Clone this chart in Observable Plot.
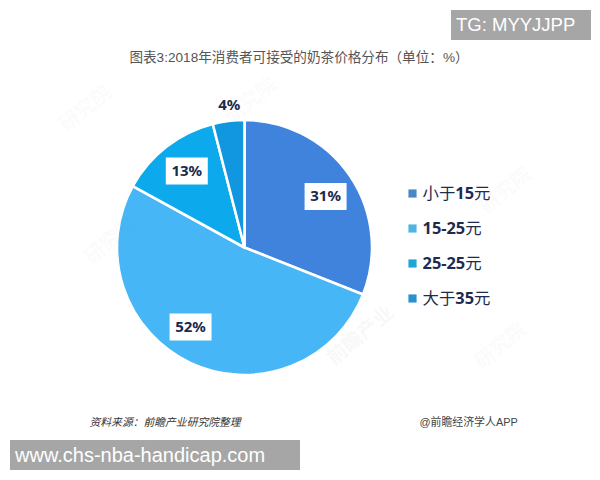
<!DOCTYPE html>
<html><head><meta charset="utf-8">
<script src="https://cdn.jsdelivr.net/npm/d3@7"></script>
<script src="https://cdn.jsdelivr.net/npm/@observablehq/plot@0.6"></script>
<style>
html,body{margin:0;padding:0;background:#fff;width:600px;height:480px;overflow:hidden}
#chart{position:absolute;left:0;top:0}
.stamp{position:absolute;background:#a6a6a6;color:#fff;font-family:"Liberation Sans",sans-serif;height:30px;line-height:30px;white-space:nowrap}
</style></head>
<body>
<div id="chart"></div>
<div class="stamp" style="left:451px;top:10px;width:135px;padding-left:5px;font-size:18.5px">TG: MYYJJPP</div>
<div class="stamp" style="left:10px;top:440px;width:285px;padding-left:5px;font-size:20px">www.chs-nba-handicap.com</div>
<script>
const categories = ["小于15元", "15-25元", "25-25元", "大于35元"];
const shares = [31, 52, 13, 4];
const pieColors = ["#3f83dc", "#46b6f6", "#0caaec", "#1097e0"];
const legendColors = ["#4a86c9", "#4fb4e2", "#1fa6d8", "#2a90cf"];
const titleText = "图表3:2018年消费者可接受的奶茶价格分布（单位：%）";
const sourceText = "资料来源：前瞻产业研究院整理";
const creditText = "@前瞻经济学人APP";
const watermarks = ["研究院", "研究院", "研究院", "研究院", "研究院", "前瞻产业"];

const rows = categories.map((category, i) => ({category, share: shares[i]}));
const cx = 244.5, cy = 247.5, R = 127.5;
const sansCJK = '"Liberation Sans","Noto Sans CJK SC",sans-serif';
const boldFont = '"Noto Sans","Noto Sans CJK SC",sans-serif';

// cumulative midpoint of each slice, as an angle, for label placement
const mids = rows.map((d, i) => (d3.sum(shares.slice(0, i)) + d.share / 2) / 100 * 2 * Math.PI);
const radial = [95, 95, 95, 142];
const nudge = [[2, 2], [-14, -7], [0, -2], [2, -2]];
const labelX = i => cx + radial[i] * Math.sin(mids[i]) + nudge[i][0];
const labelY = i => cy - radial[i] * Math.cos(mids[i]) + nudge[i][1];
const boxSymbol = {draw(c) { c.rect(-21, -13.5, 42, 27); }};

function pieRender(index, scales, values) {
  const arc = d3.arc();
  const g = d3.create("svg:g").attr("transform", `translate(${cx},${cy})`);
  for (const i of index) {
    g.append("path")
      .attr("d", arc({innerRadius: 0, outerRadius: R, startAngle: values.x1[i], endAngle: values.x2[i]}))
      .attr("fill", values.fill[i])
      .attr("stroke", "#fff")
      .attr("stroke-width", 2.6)
      .attr("stroke-linejoin", "round");
  }
  return g.node();
}

// legend labels: digits stay bold, CJK glyphs are set lighter
function legendRender(index, scales, values, dims, ctx, next) {
  const node = next(index, scales, values, dims, ctx);
  d3.select(node).selectAll("text").each(function() {
    const parts = this.textContent.match(/[\u4e00-\u9fff]+|[^\u4e00-\u9fff]+/g);
    const t = d3.select(this).text(null);
    for (const p of parts) {
      const cjk = /[\u4e00-\u9fff]/.test(p);
      t.append("tspan").text(p).attr("font-weight", cjk ? 400 : 700);
    }
  });
  return node;
}

const at = (text, x, y, o) => Plot.text([text], {text: d => d, frameAnchor: "top-left", dx: x, dy: y, lineAnchor: "middle", ...o});
const wmPos = [[85, 108, -38], [250, 100, -38], [505, 190, -40], [110, 240, -40], [500, 345, -40], [360, 335, -40]];

const chart = Plot.plot({
  width: 600, height: 480,
  margin: 0,
  style: {background: "#fff"},
  x: {axis: null, domain: [0, 100], range: [0, 2 * Math.PI]},
  y: {axis: null, type: "point", domain: categories, range: [193, 298], padding: 0},
  color: {domain: categories, range: pieColors},
  marks: [
    Plot.barX(rows, {x: "share", fill: "category", render: pieRender}),
    ...watermarks.map((w, i) => at(w, wmPos[i][0], wmPos[i][1], {
      rotate: wmPos[i][2], fontSize: 20, fontWeight: 700, fill: "#9a9a9a", fillOpacity: i === 5 ? 0.08 : 0.05,
      fontFamily: sansCJK, textAnchor: "middle"})),
    at(titleText, 295, 57, {dx: 298.5, fontSize: 13.6, fill: "#555", fontFamily: sansCJK, textAnchor: "middle"}),
    // white label boxes and percent labels
    ...[0, 1, 2].map(i => Plot.dot([rows[i]], {frameAnchor: "top-left", dx: labelX(i), dy: labelY(i), symbol: boxSymbol, r: 10, fill: "#fff", stroke: "none"})),
    ...rows.map((d, i) => at(`${d.share}%`, labelX(i), labelY(i), {
      fontSize: 15, fontWeight: 700, fill: "#1a2a4e", fontFamily: boldFont, textAnchor: "middle"})),
    // legend
    Plot.dot(categories, {y: d => d, frameAnchor: "left", dx: 412, symbol: "square", r: 4.6, fill: {value: (d, i) => legendColors[i], scale: null}, stroke: "none"}),
    Plot.text(categories, {y: d => d, text: d => d, frameAnchor: "left", dx: 422, textAnchor: "start",
      fontSize: 16.4, fill: "#1d2b4f", fontFamily: boldFont, render: legendRender}),
    at(sourceText, 89, 422, {fontSize: 10.8, fontStyle: "italic", fill: "#333", fontFamily: sansCJK, textAnchor: "start"}),
    at(creditText, 419, 422, {fontSize: 10.9, fill: "#444", fontFamily: sansCJK, textAnchor: "start"})
  ]
});
document.getElementById("chart").appendChild(chart);
</script>
</body></html>
